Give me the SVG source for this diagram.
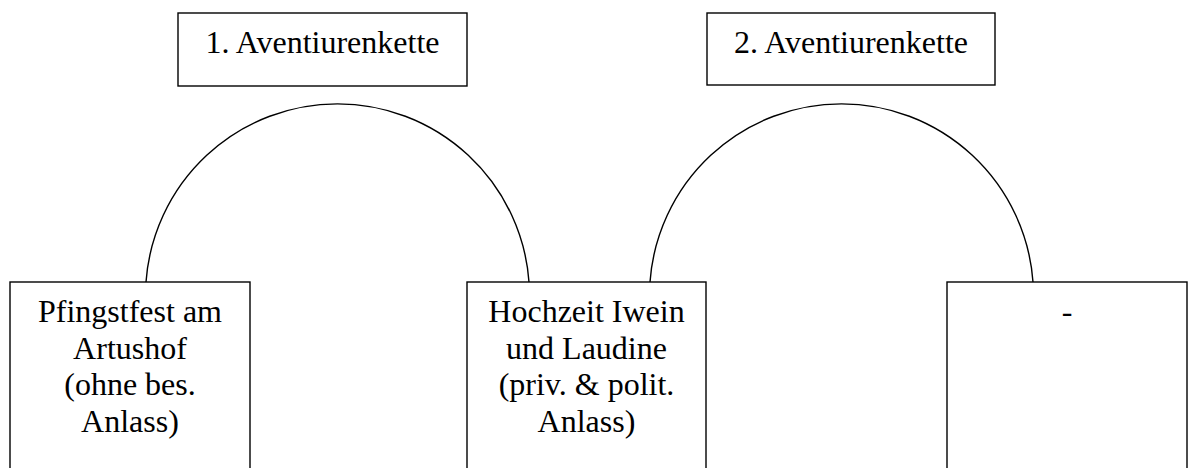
<svg xmlns="http://www.w3.org/2000/svg" width="1188" height="468" viewBox="0 0 1188 468">
<style>
.box{fill:#fff;stroke:#000;stroke-width:1.4}
.arc{fill:none;stroke:#000;stroke-width:1.4}
text{font-family:"Liberation Serif","Times New Roman",serif;font-size:32px;fill:#000;text-anchor:middle}
</style>
<rect width="1188" height="468" fill="#fff"/>
<g id="connectors">
<path class="arc" d="M146,282 A192,192 0 0 1 529,282"/>
<path class="arc" d="M650,282 A192,192 0 0 1 1033,282"/>
</g>
<g id="kette1">
<rect class="box" x="178" y="13" width="289" height="73"/>
<text x="322.5" y="53">1. Aventiurenkette</text>
</g>
<g id="kette2">
<rect class="box" x="707" y="13" width="288" height="72"/>
<text x="851" y="53">2. Aventiurenkette</text>
</g>
<g id="pfingstfest">
<rect class="box" x="10" y="282" width="240" height="200"/>
<text x="130" y="322">Pfingstfest am</text>
<text x="130" y="358.5">Artushof</text>
<text x="130" y="395">(ohne bes.</text>
<text x="130" y="431.5">Anlass)</text>
</g>
<g id="hochzeit">
<rect class="box" x="467" y="282" width="239" height="200"/>
<text x="586.5" y="322">Hochzeit Iwein</text>
<text x="586.5" y="358.5">und Laudine</text>
<text x="586.5" y="395">(priv. &amp; polit.</text>
<text x="586.5" y="431.5">Anlass)</text>
</g>
<g id="leer">
<rect class="box" x="947" y="282" width="240" height="200"/>
<text x="1067" y="322">-</text>
</g>
</svg>
